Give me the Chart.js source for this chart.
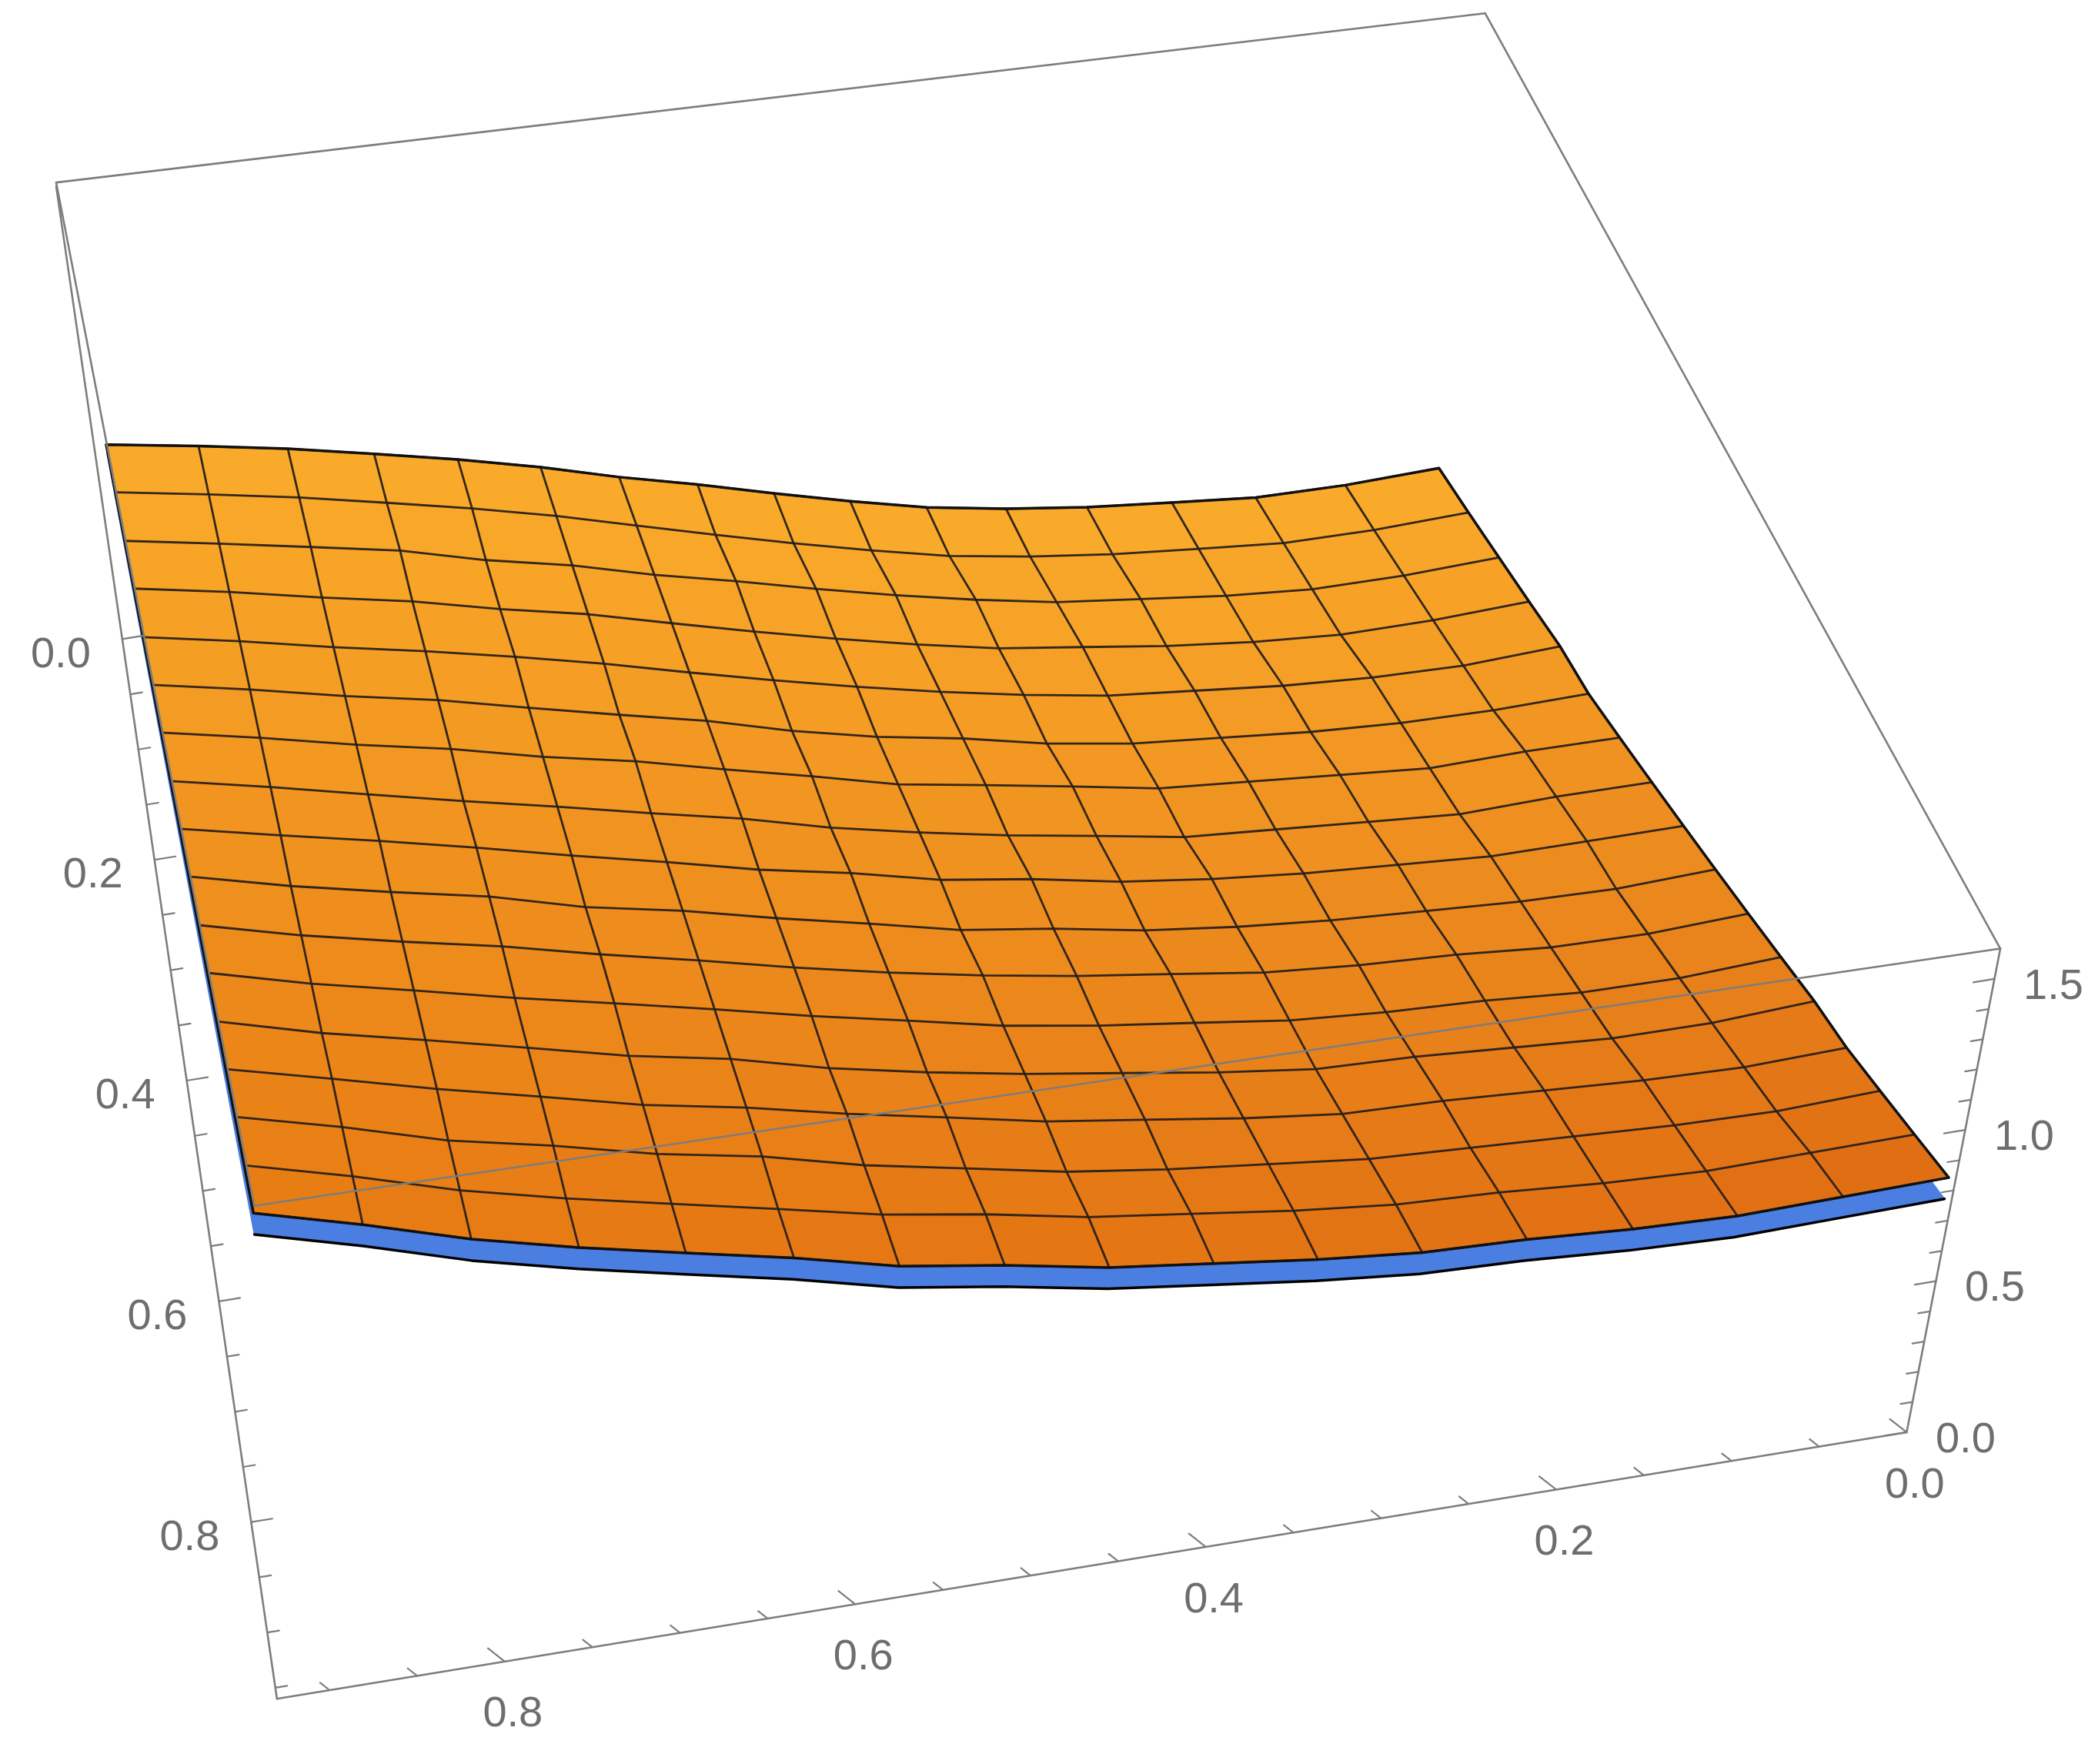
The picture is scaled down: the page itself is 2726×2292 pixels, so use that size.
<!DOCTYPE html>
<html><head><meta charset="utf-8">
<script src="https://cdn.jsdelivr.net/npm/chart.js@4.4.1/dist/chart.umd.min.js"></script>
<style>html,body{margin:0;padding:0;background:#fff}canvas{display:block}</style>
</head><body>
<canvas id="c" width="2726" height="2292"></canvas>
<script>
// ---------- data ----------
const xs = [0,.058,.116,.174,.233,.291,.349,.407,.465,.523,.581,.639,.698,.756,.814,.872,.93];
const ys = [0,.059,.119,.178,.238,.297,.356,.416,.475,.534,.594,.653,.713,.772,.831,.891,.95];
// orange surface z, one row per y (far -> near), columns along x
const zOrange = [
[1.00,.96,.93,.92,.91,.91,.92,.95,.99,1.04,1.09,1.16,1.23,1.30,1.38,1.46,1.55],
[.99,.95,.92,.91,.90,.90,.91,.94,.98,1.03,1.09,1.16,1.23,1.30,1.38,1.46,1.55],
[.98,.94,.91,.90,.90,.90,.92,.95,.99,1.04,1.09,1.16,1.22,1.31,1.38,1.46,1.55],
[.97,.93,.90,.89,.89,.90,.91,.94,.98,1.03,1.09,1.16,1.22,1.30,1.37,1.46,1.55],
[.96,.92,.90,.89,.89,.89,.91,.94,.98,1.03,1.09,1.16,1.23,1.30,1.37,1.46,1.55],
[.94,.91,.89,.88,.88,.88,.90,.94,.97,1.02,1.09,1.15,1.22,1.30,1.37,1.46,1.55],
[.93,.91,.88,.88,.88,.88,.91,.94,.97,1.03,1.09,1.16,1.22,1.30,1.37,1.46,1.55],
[.92,.90,.87,.87,.87,.87,.90,.93,.97,1.02,1.09,1.15,1.22,1.29,1.37,1.46,1.55],
[.91,.89,.87,.87,.87,.88,.90,.94,.97,1.03,1.08,1.15,1.22,1.30,1.38,1.46,1.55],
[.90,.87,.86,.86,.86,.87,.89,.93,.96,1.02,1.08,1.15,1.21,1.30,1.37,1.45,1.55],
[.89,.86,.85,.86,.86,.87,.90,.93,.97,1.02,1.08,1.15,1.22,1.30,1.37,1.45,1.55],
[.88,.85,.84,.85,.85,.86,.89,.92,.96,1.02,1.08,1.15,1.22,1.29,1.37,1.45,1.55],
[.87,.84,.83,.84,.85,.85,.88,.92,.96,1.01,1.07,1.15,1.21,1.29,1.37,1.45,1.55],
[.85,.83,.83,.84,.85,.85,.88,.92,.96,1.02,1.08,1.15,1.21,1.29,1.37,1.46,1.55],
[.84,.82,.82,.83,.84,.85,.88,.91,.95,1.01,1.07,1.15,1.21,1.29,1.36,1.46,1.55],
[.83,.82,.81,.82,.84,.85,.88,.92,.96,1.02,1.07,1.14,1.21,1.28,1.36,1.46,1.55],
[.82,.81,.80,.81,.83,.84,.87,.91,.95,1.01,1.06,1.14,1.21,1.28,1.36,1.46,1.55]
];
// blue (lower) surface, far and near rows
const zBlueFar  = [.93,.89,.86,.85,.84,.84,.85,.88,.92,.97,1.02,1.09,1.16,1.23,1.31,1.39,1.48];
const zBlueNear = [.75,.74,.73,.74,.76,.77,.80,.84,.88,.94,.99,1.07,1.14,1.21,1.29,1.39,1.48];
const xTicks = [0,.05,.1,.15,.2,.25,.3,.35,.4,.45,.5,.55,.6,.65,.7,.75,.8,.85,.9];
const xLabels = ['0.0','0.2','0.4','0.6','0.8'];
const yTicks = [0,.05,.1,.15,.2,.25,.3,.35,.4,.45,.5,.55,.6,.65,.7,.75,.8,.85,.9,.95];
const yLabels = ['0.0','0.2','0.4','0.6','0.8'];
const zTicks = [0,.1,.2,.3,.4,.5,.6,.7,.8,.9,1,1.1,1.2,1.3,1.4,1.5];
const zLabels = ['0.0','0.5','1.0','1.5'];

// ---------- view (projection parameters, screen units 1568x1324) ----------
const VIEW = {xMax:.93, yLoT:-.32, yLoB:-.41, yHi:.96, zMax:1.6,
  T00:[1110,10], T10:[42,137], T01:[1495,712], T11:[190,905],
  B00:[615,437], B10:[42,140], B01:[1425,1075], B11:[207,1275]};
function bil(A,B,C,D,u,s){return [(1-u)*(1-s)*A[0]+u*(1-s)*B[0]+(1-u)*s*C[0]+u*s*D[0],
                                  (1-u)*(1-s)*A[1]+u*(1-s)*B[1]+(1-u)*s*C[1]+u*s*D[1]];}
function proj(x,y,z){
  const V=VIEW,u=x/V.xMax,st=(y-V.yLoT)/(V.yHi-V.yLoT),sb=(y-V.yLoB)/(V.yHi-V.yLoB),w=z/V.zMax;
  const t=bil(V.T00,V.T10,V.T01,V.T11,u,st), b=bil(V.B00,V.B10,V.B01,V.B11,u,sb);
  return {x:b[0]+(t[0]-b[0])*w, y:b[1]+(t[1]-b[1])*w};
}
function ds(pts,color,width,fillColor){
  return {data:pts,borderColor:color,borderWidth:width,backgroundColor:fillColor||'rgba(0,0,0,0)',
    fill:fillColor?'shape':false,pointRadius:0,pointHoverRadius:0,tension:0,spanGaps:false};
}
const list=[];
const n=xs.length,m=ys.length;
// blue surface
for(let i=0;i<n-1;i++){
  const y0=ys[0],y1=ys[m-1];
  const q=[proj(xs[i],y0,zBlueFar[i]),proj(xs[i+1],y0,zBlueFar[i+1]),proj(xs[i+1],y1,zBlueNear[i+1]),proj(xs[i],y1,zBlueNear[i]),proj(xs[i],y0,zBlueFar[i])];
  list.push(ds(q,'#4a7ee0',1.5,'#4a7ee0'));
}
list.push(ds(xs.map((x,i)=>proj(x,ys[m-1],zBlueNear[i])),'#000',3.5));
// orange quads
for(let j=0;j<m-1;j++){
  for(let i=0;i<n-1;i++){
    const t=j/(m-2), r=i/(n-2);
    const R=Math.round(250-18*t-8*t*(1-r)),G=Math.round(170-45*t-14*t*(1-r)),B=Math.round(42-22*t);
    const c=`rgb(${R},${G},${B})`;
    const q=[proj(xs[i],ys[j],zOrange[j][i]),proj(xs[i+1],ys[j],zOrange[j][i+1]),proj(xs[i+1],ys[j+1],zOrange[j+1][i+1]),proj(xs[i],ys[j+1],zOrange[j+1][i]),proj(xs[i],ys[j],zOrange[j][i])];
    list.push(ds(q,c,1.5,c));
  }
}
// mesh
for(let j=0;j<m;j++) list.push(ds(xs.map((x,i)=>proj(x,ys[j],zOrange[j][i])),'rgba(40,32,25,0.95)',2.8));
for(let i=0;i<n;i++) list.push(ds(ys.map((y,j)=>proj(xs[i],y,zOrange[j][i])),'rgba(40,32,25,0.95)',2.8));
// outline
const outline=[...xs.map((x,i)=>proj(x,ys[0],zOrange[0][i])),...ys.map((y,j)=>proj(xs[n-1],y,zOrange[j][n-1])),
  ...xs.slice().reverse().map((x,k)=>proj(x,ys[m-1],zOrange[m-1][n-1-k])),...ys.slice().reverse().map((y,k)=>proj(xs[0],y,zOrange[m-1-k][0]))];
list.push(ds(outline,'#111',3.5));
// box
const V=VIEW,gray='#7d7d7d';
const P=(x,y,z)=>proj(x,y,z);
[[P(V.xMax,V.yLoT,V.zMax),P(0,V.yLoT,V.zMax)],[P(0,V.yLoT,V.zMax),P(0,V.yHi,V.zMax)],[P(0,V.yHi,V.zMax),P(V.xMax,V.yHi,V.zMax)],
 [P(V.xMax,V.yLoT,V.zMax),P(V.xMax,V.yHi,V.zMax)],[P(0,V.yHi,V.zMax),P(0,V.yHi,0)],[P(0,V.yHi,0),P(V.xMax,V.yHi,0)],
 [P(V.xMax,V.yHi,0),P(V.xMax,V.yLoB,0)]].forEach(s=>list.push(ds(s,gray,2.6)));
// ticks
function unit(a,b){const dx=b.x-a.x,dy=b.y-a.y,L=Math.hypot(dx,dy);return [dx/L,dy/L];}
const labels=[];
function ticks(vals,labs,fp,dir,off){
  const pts=[];
  vals.forEach(v=>{const p=fp(v);const maj=labs.includes(v.toFixed(1))&&Math.abs(v*10-Math.round(v*10))<1e-6&&(Math.round(v*10)%(labs===zLabels?5:2)===0);
    const L=maj?16:9;pts.push(p,{x:p.x+dir[0]*L,y:p.y+dir[1]*L},{x:p.x,y:null});
    if(maj) labels.push({x:p.x+off[0],y:p.y+off[1],t:v.toFixed(1)});});
  list.push(ds(pts,gray,2.2));
}
ticks(zTicks,zLabels,v=>P(0,V.yHi,v),unit(P(0,V.yHi,0),P(V.xMax,V.yHi,0)),[44,6]);
ticks(xTicks,xLabels,v=>P(v,V.yHi,0),unit(P(0,V.yHi,0),P(0,V.yLoB,0)),[6,40]);
ticks(yTicks,yLabels,v=>P(V.xMax,v,0),unit(P(V.xMax,V.yHi,0),P(0,V.yHi,0)),[-46,12]);

const labelPlugin={id:'lab',afterDatasetsDraw(chart){
  const ctx=chart.ctx,sx=chart.scales.x,sy=chart.scales.y;
  ctx.save();ctx.font='56px "Liberation Sans", Arial, sans-serif';ctx.fillStyle='#6e6e6e';ctx.textAlign='center';ctx.textBaseline='middle';
  labels.forEach(l=>ctx.fillText(l.t,sx.getPixelForValue(l.x),sy.getPixelForValue(l.y)));ctx.restore();}};

new Chart(document.getElementById('c'),{type:'line',
  data:{datasets:list.slice().reverse()},
  options:{responsive:false,animation:false,devicePixelRatio:1,layout:{padding:0},
    plugins:{legend:{display:false},tooltip:{enabled:false},filler:{propagate:false}},
    scales:{x:{type:'linear',min:0,max:1568,display:false},y:{type:'linear',min:0,max:1324,reverse:true,display:false}},
    elements:{line:{borderJoinStyle:'round',borderCapStyle:'round'}}},
  plugins:[labelPlugin]});
</script></body></html>
